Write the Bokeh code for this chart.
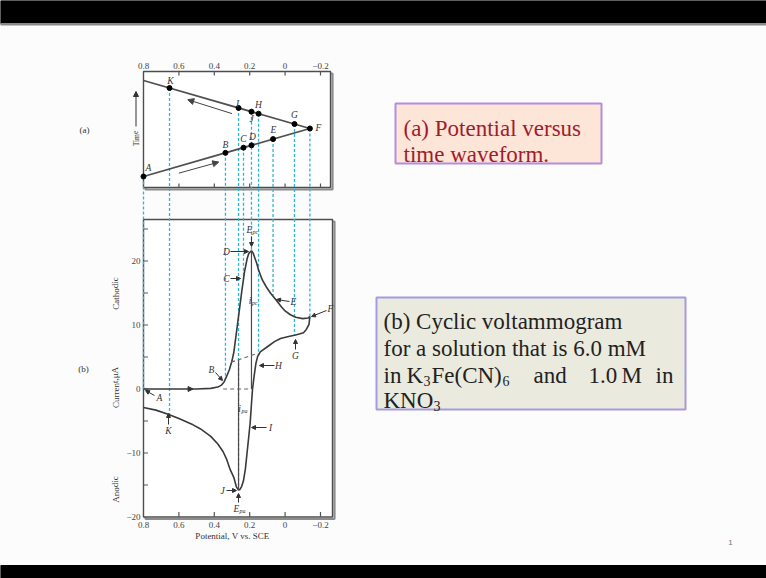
from bokeh.plotting import figure
from bokeh.models import Range1d, Arrow, NormalHead
from bokeh.embed import file_html
from bokeh.resources import INLINE
from bokeh.core.properties import value

# ---------------- data ----------------
# (a) potential-versus-time waveform (triangular scan)
wave_v = [0.80, -0.14, 0.80]
wave_t = [0.0, 1.0, 2.0]
pt_names = ["A", "B", "C", "D", "E", "F", "G", "H", "J", "I", "K"]
pt_v = [0.80, 0.337, 0.235, 0.190, 0.068, -0.14, -0.053, 0.150, 0.190, 0.263, 0.653]
pt_t = [0.0, 0.493, 0.601, 0.649, 0.779, 1.0, 1.093, 1.309, 1.351, 1.428, 1.843]

# (b) cyclic voltammogram, forward (cathodic) scan
fwd_v = [0.80, 0.70, 0.60, 0.50, 0.42, 0.38, 0.36, 0.345, 0.33, 0.315, 0.30, 0.29, 0.275,
         0.26, 0.245, 0.23, 0.215, 0.205, 0.19, 0.18, 0.17, 0.16, 0.15, 0.128, 0.105,
         0.083, 0.06, 0.04, 0.02, 0.0, -0.03, -0.06, -0.10, -0.13, -0.14]
fwd_i = [0.0, 0.0, 0.0, 0.0, 0.1, 0.3, 0.6, 1.1, 2.0, 3.0, 4.4, 5.7, 8.8,
         12.0, 15.2, 18.2, 20.3, 21.2, 21.6, 21.2, 20.4, 19.6, 18.6, 17.0, 15.9,
         15.0, 14.2, 13.5, 12.8, 12.2, 11.6, 11.2, 11.0, 11.1, 11.3]
# reverse (anodic) scan
rev_v = [-0.14, -0.135, -0.12, -0.104, -0.08, -0.053, -0.02, 0.026, 0.06, 0.10, 0.125,
         0.14, 0.155, 0.165, 0.175, 0.184, 0.19, 0.197, 0.207, 0.215, 0.224, 0.235,
         0.245, 0.255, 0.263, 0.275, 0.29, 0.31, 0.33, 0.35, 0.38, 0.42, 0.48, 0.52,
         0.60, 0.665, 0.73, 0.80]
rev_i = [11.3, 10.1, 9.3, 8.8, 8.6, 8.4, 8.2, 7.9, 7.4, 6.6, 6.1,
         5.8, 5.1, 4.0, 2.0, 0.0, -2.3, -5.2, -7.9, -10.0, -12.4, -14.3,
         -15.2, -15.7, -15.8, -15.3, -13.8, -12.6, -11.0, -9.8, -8.6, -7.4, -6.2, -5.6,
         -4.6, -3.9, -3.3, -2.9]

# guide lines from waveform points down to the voltammogram
cyan_v = [0.80, 0.653, 0.337, 0.263, 0.235, 0.190, 0.150, 0.068, -0.053, -0.14]
cyan_t = [0.0, 1.843, 0.493, 1.428, 0.601, 1.351, 1.309, 0.779, 1.093, 1.0]
cyan_i = [0.0, -4.0, 1.5, -15.8, 17.2, 21.6, 5.2, 14.6, 8.4, 11.3]

# peak current construction lines
epc_v, epc_i = 0.190, 21.6
epa_v, epa_i = 0.263, -15.8
base_v = [0.305, 0.152]
base_i = [4.2, 5.6]
zero_v = [0.35, 0.19]

x_ticks = [0.8, 0.6, 0.4, 0.2, 0.0, -0.2]
x_tick_labels = ["0.8", "0.6", "0.4", "0.2", "0", "\u22120.2"]
y_ticks = [20, 10, 0, -10, -20]
y_tick_labels = ["20", "10", "0", "\u221210", "\u221220"]
y_minor = [25, 15, 5, -5, -15]

# ---------------- layout helpers (page pixels -> data) ----------------
W, H = 766, 578


def X(px):
    return 0.8 - (px - 143) / 177.0


def Y(py):
    return (388.5 - py) / 6.4


def T(py):
    return (176.0 - py) / 48.0


SERIF = value("Liberation Serif")
BG = "#fcfcfc"

p = figure(width=W, height=H, x_range=Range1d(X(0), X(W)),
           y_range=Range1d(Y(H), Y(0)), output_backend="svg",
           toolbar_location=None, min_border=0, x_axis_location=None,
           y_axis_location=None, background_fill_color=BG, border_fill_color=BG)
p.outline_line_color = None
p.grid.grid_line_color = None
p.extra_y_ranges = {"time": Range1d(T(H), T(0))}
yr = p.y_range
tr = p.extra_y_ranges["time"]


def t_to_i(t):
    return yr.start + (t - tr.start) * (yr.end - yr.start) / (tr.end - tr.start)


# slide black bars
p.quad(left=X(0), right=X(W), top=Y(0), bottom=Y(23), color="black")
p.quad(left=X(0), right=X(W), top=Y(23), bottom=Y(24.5), color="#8a8a8a")
p.quad(left=X(0), right=X(W), top=Y(565), bottom=Y(H), color="black")

# plot frames with drop shadow
for (l, r, t, b) in [(143, 330, 71, 187), (143, 332, 219, 516.5)]:
    p.quad(left=X(l + 2), right=X(r + 2), top=Y(t + 2), bottom=Y(b + 2),
           fill_color=None, line_color="#8c8c8c", line_width=2.2)
    p.quad(left=X(l), right=X(r), top=Y(t), bottom=Y(b),
           fill_color="white", line_color="#4d4d4d", line_width=1.4)

# ticks
tick_col = "#555555"
xt = x_ticks[1:]
p.segment(x0=xt, y0=[Y(71)] * len(xt), x1=xt, y1=[Y(75)] * len(xt), line_color=tick_col, line_width=1.2)
p.segment(x0=xt, y0=[Y(187)] * len(xt), x1=xt, y1=[Y(183)] * len(xt), line_color=tick_col, line_width=1.2)
p.segment(x0=xt, y0=[Y(516.5)] * len(xt), x1=xt, y1=[Y(511.5)] * len(xt), line_color=tick_col, line_width=1.2)
yt = y_ticks[:-1] + y_minor
p.segment(x0=[X(143)] * len(yt), y0=yt, x1=[X(147.5)] * len(yt), y1=yt, line_color=tick_col, line_width=1.2)

# tick labels
p.text(x=x_ticks, y=[Y(65)] * 6, text=x_tick_labels, text_font=SERIF, text_font_size="9px",
       text_align="center", text_baseline="middle", text_color="#444444")
p.text(x=x_ticks, y=[Y(524)] * 6, text=x_tick_labels, text_font=SERIF, text_font_size="9px",
       text_align="center", text_baseline="middle", text_color="#444444")
p.text(x=[X(140)] * 5, y=y_ticks, text=y_tick_labels, text_font=SERIF, text_font_size="9px",
       text_align="right", text_baseline="middle", text_color="#444444")

# axis titles
p.text(x=[X(232)], y=[Y(535)], text=["Potential, V vs. SCE"], text_font=SERIF,
       text_font_size="9px", text_align="center", text_baseline="middle", text_color="#333333")
p.text(x=[X(115)] * 3, y=[Y(293), Y(387), Y(489)], text=["Cathodic", "Current,\u03bcA", "Anodic"],
       angle=1.5708, text_font=SERIF, text_font_size="9px", text_align="center",
       text_baseline="middle", text_color="#333333")
p.text(x=[X(135.5)], y=[Y(138)], text=["Time"], angle=1.5708, text_font=SERIF,
       text_font_size="7.5px", text_align="center", text_baseline="middle", text_color="#333333")
p.add_layout(Arrow(end=NormalHead(size=5, fill_color="#333333", line_color="#333333"),
                   x_start=X(135.5), y_start=Y(126), x_end=X(135.5), y_end=Y(91),
                   line_color="#333333", line_width=1))
p.text(x=[X(84), X(83)], y=[Y(129), Y(368)], text=["(a)", "(b)"], text_font=SERIF,
       text_font_size="9px", text_align="center", text_baseline="middle", text_color="#333333")

# cyan guide lines
cyan = "#2bb5d8"
p.segment(x0=cyan_v, y0=[t_to_i(t) for t in cyan_t], x1=cyan_v, y1=cyan_i,
          line_color=cyan, line_width=1.3, line_dash="3 2")

# (a) waveform
p.line(wave_v, wave_t, y_range_name="time", line_color="#505050", line_width=1.8)
p.scatter(pt_v, pt_t, y_range_name="time", size=5, color="black")
p.add_layout(Arrow(end=NormalHead(size=6, fill_color="#444444", line_color="#444444"),
                   x_start=0.60, y_start=0.07, x_end=0.375, y_end=0.30, y_range_name="time",
                   line_color="#444444", line_width=1))
p.add_layout(Arrow(end=NormalHead(size=6, fill_color="#444444", line_color="#444444"),
                   x_start=0.30, y_start=1.31, x_end=0.55, y_end=1.60, y_range_name="time",
                   line_color="#444444", line_width=1))
a_lab = ["A", "K", "I", "J", "H", "G", "F", "E", "D", "C", "B"]
a_x = [148, 170, 237, 251, 258, 294, 318, 273, 252, 243, 225]
a_y = [167, 80, 103, 118, 104, 114, 127, 129, 136, 138, 144]
p.text(x=[X(v) for v in a_x], y=[Y(v) for v in a_y], text=a_lab, text_font=SERIF,
       text_font_style="italic", text_font_size="9.5px", text_align="center",
       text_baseline="middle", text_color="#333333")

# (b) voltammogram
p.line(fwd_v + rev_v, fwd_i + rev_i, line_color="#3a3a3a", line_width=1.6)
p.segment(x0=[epc_v, epa_v], y0=[epc_i, epa_i], x1=[epc_v, epa_v],
          y1=[0.0, base_i[0] + (epa_v - base_v[0]) * (base_i[1] - base_i[0]) / (base_v[1] - base_v[0])],
          line_color="#4a4a4a", line_width=1.2)
p.line(base_v, base_i, line_color="#666666", line_width=1.1, line_dash="4 3")
p.line(zero_v, [0.0, 0.0], line_color="#666666", line_width=1.1, line_dash="4 3")
p.add_layout(Arrow(end=NormalHead(size=5, fill_color="#333333", line_color="#333333"),
                   x_start=0.56, y_start=0.0, x_end=0.52, y_end=0.0, line_alpha=0.0))

b_lab = ["A", "K", "B", "C", "D", "E", "F", "G", "H", "I", "J"]
b_x = [159, 168, 211, 226, 226, 293, 330, 295, 278, 270, 222]
b_y = [397, 430, 369, 278, 251, 301, 308, 355, 365, 427, 490]
p.text(x=[X(v) for v in b_x], y=[Y(v) for v in b_y], text=b_lab, text_font=SERIF,
       text_font_style="italic", text_font_size="9.5px", text_align="center",
       text_baseline="middle", text_color="#333333")
arrows = [(154, 395, 145, 390), (168, 424, 168, 413), (215, 372, 222, 380),
          (230, 278, 240, 278), (230, 251, 248, 251), (251, 236, 251, 246),
          (289, 301, 276, 299), (326, 310, 311, 316), (295, 349, 295, 339),
          (274, 365, 259, 365), (266, 427, 251, 427), (226, 490, 236, 490),
          (238, 502, 238, 493)]
for (x0, y0, x1, y1) in arrows:
    p.add_layout(Arrow(end=NormalHead(size=4, fill_color="#333333", line_color="#333333"),
                       x_start=X(x0), y_start=Y(y0), x_end=X(x1), y_end=Y(y1),
                       line_color="#333333", line_width=1))

# subscript labels E_pc, i_pc, E_pa, i_pa
p.text(x=[X(249), X(249.5), X(236), X(239)], y=[Y(229), Y(300), Y(508), Y(408)],
       text=["E", "i", "E", "i"], text_font=SERIF, text_font_style="italic",
       text_font_size="9.5px", text_align="center", text_baseline="middle", text_color="#333333")
p.text(x=[X(252), X(251.5), X(239), X(241)], y=[Y(231.5), Y(302), Y(510.5), Y(410)],
       text=["pc", "pc", "pa", "pa"], text_font=SERIF, text_font_style="italic",
       text_font_size="6px", text_align="left", text_baseline="middle", text_color="#333333")

# ---------------- text boxes ----------------
p.quad(left=X(395), right=X(601), top=Y(103), bottom=Y(163), fill_color="#fde5d8",
       line_color="#b28ee0", line_width=2)
p.text(x=[X(403)] * 2, y=[Y(127.5), Y(153.5)], text=["(a) Potential versus", "time waveform."],
       text_font=SERIF, text_font_size="23px", text_align="left", text_baseline="alphabetic",
       text_color="#a01c2c")

p.quad(left=X(376), right=X(685), top=Y(297), bottom=Y(409), fill_color="#ebeadf",
       line_color="#a59be0", line_width=2)
dark = "#222222"
p.text(x=[X(383)] * 3, y=[Y(321), Y(348), Y(400)],
       text=["(b) Cyclic voltammogram", "for a solution that is 6.0 mM", "KNO"],
       text_font=SERIF, text_font_size="23px", text_align="left", text_baseline="alphabetic",
       text_color=dark)
line3 = ["in", "K", "Fe(CN)", "and", "1.0", "M", "in"]
line3_x = [383, 406, 431, 533, 588, 621, 655]
p.text(x=[X(v) for v in line3_x], y=[Y(375)] * len(line3), text=line3,
       text_font=SERIF, text_font_size="23px", text_align="left", text_baseline="alphabetic",
       text_color=dark)
# chemical-formula subscripts
p.text(x=[X(423), X(502), X(433)], y=[Y(380), Y(380), Y(405)], text=["3", "6", "3"],
       text_font=SERIF, text_font_size="14px", text_align="left", text_baseline="alphabetic",
       text_color=dark)

# page number
p.text(x=[X(730)], y=[Y(542)], text=["1"], text_font=value("Liberation Sans"),
       text_font_size="8px", text_align="center", text_baseline="middle", text_color="#777777")

open("out.html", "w").write(file_html(p, INLINE))
